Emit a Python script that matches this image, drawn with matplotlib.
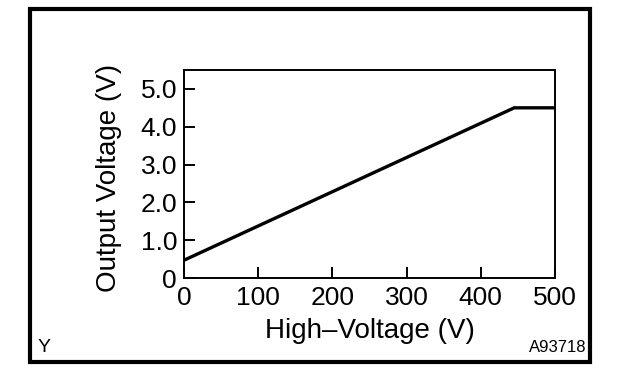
import matplotlib
matplotlib.use("Agg")
import matplotlib.pyplot as plt
from matplotlib.patches import Rectangle

plt.rcParams['font.family'] = ['Liberation Sans', 'DejaVu Sans']

# Data
high_voltage = [0, 445, 500]
output_voltage = [0.47, 4.5, 4.5]
x_ticks = [0, 100, 200, 300, 400, 500]
x_tick_labels = ["0", "100", "200", "300", "400", "500"]
y_ticks = [0, 1, 2, 3, 4, 5]
y_tick_labels = ["0", "1.0", "2.0", "3.0", "4.0", "5.0"]
x_label = "High\u2013Voltage (V)"
y_label = "Output Voltage (V)"

W, H = 624, 376
fig = plt.figure(figsize=(W / 100, H / 100), dpi=100)

# outer frame
fig.patches.append(Rectangle((30 / W, 1 - 362 / H), 560 / W, 353 / H,
                             transform=fig.transFigure, fill=False,
                             edgecolor='black', linewidth=3.0))

ax = fig.add_axes([184 / W, 1 - 278 / H, 371 / W, 208 / H])
ax.plot(high_voltage, output_voltage, color='black', linewidth=2.4,
        solid_joinstyle='miter')
ax.set_xlim(0, 500)
ax.set_ylim(0, 5.5)
ax.set_xticks(x_ticks)
ax.set_xticklabels(x_tick_labels)
ax.set_yticks(y_ticks)
ax.set_yticklabels(y_tick_labels)
ax.tick_params(direction='in', length=8, width=1.4, labelsize=19,
               pad=5, colors='black')
ax.tick_params(axis='x', pad=6)
for s in ax.spines.values():
    s.set_linewidth(1.4)

fig.text(370 / W, 1 - 331 / H, x_label, ha='center', va='center', fontsize=20)
fig.text(109 / W, 1 - 178 / H, y_label, ha='center', va='center',
         rotation=90, fontsize=20)
fig.text(38 / W, 1 - 347 / H, "Y", ha='left', va='center', fontsize=14)
fig.text(586 / W, 1 - 348 / H, "A93718", ha='right', va='center', fontsize=12)

fig.savefig("out.png", dpi=100)
